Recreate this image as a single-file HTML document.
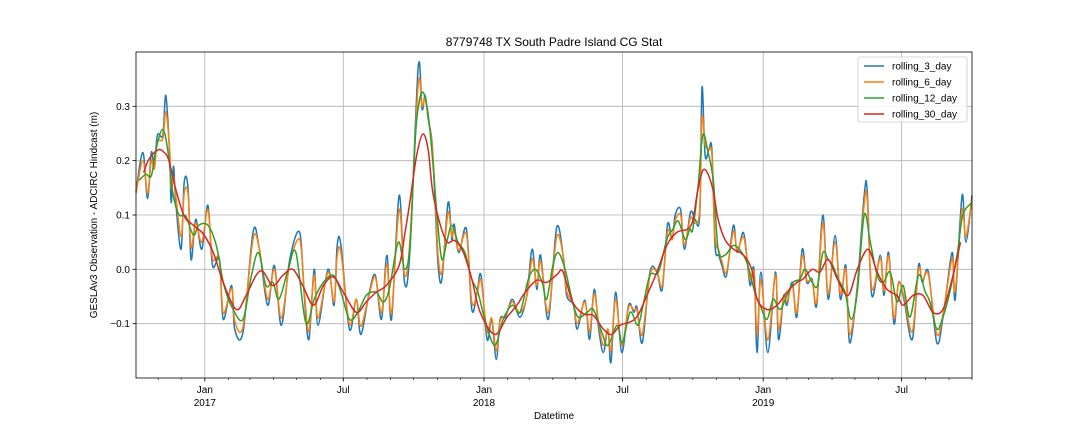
<!DOCTYPE html>
<html><head><meta charset="utf-8">
<style>
html,body{margin:0;padding:0;background:#fff;}
svg{display:block;font-family:"Liberation Sans","DejaVu Sans",sans-serif;}
</style></head>
<body>
<svg id="chart" width="1080" height="432" viewBox="0 0 1080 432">
  <rect x="0" y="0" width="1080" height="432" fill="#fff"/>
  <g id="grid"></g>
  <g id="series"></g>
  <rect x="136" y="52" width="836" height="326" fill="none" stroke="#000" stroke-width="0.8"/>
  <g id="axes"></g>
  <text x="554" y="46" text-anchor="middle" font-size="12" fill="#000">8779748 TX South Padre Island CG Stat</text>
  <text x="554" y="419" text-anchor="middle" font-size="10" fill="#000">Datetime</text>
  <text transform="translate(97,215) rotate(-90)" text-anchor="middle" font-size="10" fill="#000">GESLAv3 Observation - ADCIRC Hindcast (m)</text>
  <g>
    <rect x="858" y="57" width="109" height="65" rx="2" fill="#fff" fill-opacity="0.85" stroke="#ccc" stroke-width="0.8"/>
    <g id="legend"></g>
  </g>
</svg>
<script>
const blueDays=[0,9,15,20,24,28,35,39,44,46,49,52,59,63,68,72,78,86,94,100,109,114,125,129,140,153,161,172,181,190,201,214,220,226,233,238,251,259,263,268,279,288,294,305,313,321,328,334,344,351,358,369,374,378,382,387,391,395,400,408,413,416,422,432,439,446,451,459,465,471,476,483,492,502,511,518,524,529,539,550,559,563,572,577,587,593,599,605,611,617,621,627,635,644,651,655,662,672,681,688,695,701,705,712,717,725,731,737,740,744,749,753,757,762,766,772,781,786,794,799,803,808,812,817,826,836,840,847,851,858,864,871,877,884,890,898,905,914,921,928,933,943,952,956,962,973,978,984,991,997,1004,1015,1023,1028,1036,1047,1056,1067,1071,1080,1085,1093];
const blueVals=[.142,.215,.13,.215,.19,.247,.247,.32,.21,.123,.19,.123,.037,.16,.15,.018,.092,.037,.118,.007,.018,-.092,-.03,-.11,-.115,.068,.04,-.066,.007,-.103,.018,.068,-.048,-.129,0,-.103,0,-.066,.044,.044,-.11,-.055,-.12,-.042,-.011,-.092,.026,-.092,.136,-.024,.031,.372,.295,.32,.276,.234,.123,.007,-.018,.123,.055,.083,.031,.074,-.074,-.042,-.011,-.129,-.092,-.166,-.092,-.088,-.055,-.088,-.048,.037,-.037,.026,-.092,.077,.018,-.048,-.066,-.11,-.057,-.129,-.037,-.11,-.153,-.11,-.171,-.042,-.153,-.066,-.079,-.07,-.135,-.005,-.005,-.037,.083,.055,.1,.11,.037,.105,.092,.1,.335,.21,.22,.22,.044,.026,.007,-.011,.081,.031,.068,.018,-.03,0,-.153,-.005,-.153,-.005,-.129,-.048,-.066,-.024,-.088,.037,-.024,-.018,-.066,.1,-.055,.062,-.055,.007,-.135,-.03,.136,.145,-.048,.026,-.048,.031,-.1,-.024,-.055,-.129,.007,-.024,-.005,-.135,-.079,.031,-.055,.136,.05,.136];
const orangeDays=blueDays;
const orangeVals=[.14,.20,.14,.20,.185,.235,.24,.29,.22,.15,.17,.135,.06,.14,.14,.04,.085,.05,.11,.02,.02,-.08,-.035,-.095,-.105,.055,.04,-.055,0,-.09,.01,.055,-.04,-.115,-.01,-.09,-.005,-.06,.025,.03,-.1,-.055,-.105,-.045,-.015,-.08,.01,-.08,.11,-.01,.05,.34,.30,.315,.28,.23,.14,.025,-.005,.105,.06,.075,.035,.065,-.06,-.045,-.02,-.115,-.09,-.15,-.095,-.085,-.06,-.08,-.05,.02,-.03,.015,-.08,.06,.02,-.04,-.065,-.1,-.06,-.115,-.045,-.1,-.14,-.11,-.15,-.055,-.14,-.07,-.075,-.075,-.12,-.01,-.005,-.03,.07,.055,.09,.1,.045,.095,.085,.11,.28,.23,.22,.21,.06,.035,.015,-.005,.07,.035,.06,.02,-.02,-.005,-.12,-.02,-.13,-.01,-.11,-.05,-.06,-.03,-.08,.025,-.02,-.02,-.06,.085,-.045,.05,-.045,0,-.12,-.035,.12,.13,-.035,.02,-.04,.025,-.09,-.025,-.05,-.115,0,-.02,-.01,-.12,-.075,.02,-.04,.11,.06,.13];
const greenDays=[4,13,20,26,35,42,48,56,65,75,82,94,105,115,127,140,150,160,170,179,187,199,209,222,233,245,258,268,279,290,301,314,323,331,343,351,358,363,367,374,381,387,394,400,407,413,421,430,439,447,456,469,480,492,502,513,522,531,537,545,552,561,570,578,590,598,609,617,629,636,646,656,663,672,683,694,702,709,718,724,728,735,741,748,755,761,770,781,792,800,809,816,825,833,842,851,859,868,875,884,891,898,905,911,918,927,935,943,952,960,969,977,986,995,1003,1012,1023,1032,1038,1047,1055,1064,1074,1081,1093];
const greenVals=[.164,.175,.172,.22,.258,.215,.142,.101,.098,.063,.081,.081,.044,-.03,-.074,-.092,-.018,.031,-.03,-.024,-.055,0,.031,-.098,-.055,-.024,-.011,-.042,-.092,-.079,-.048,-.042,-.06,-.037,.05,0,.037,.18,.276,.326,.295,.215,.092,.018,.055,.081,.05,.031,-.018,-.042,-.092,-.14,-.092,-.066,-.079,-.018,0,-.024,-.055,.007,.031,0,-.055,-.088,-.079,-.074,-.116,-.14,-.103,-.135,-.079,-.103,-.066,-.011,-.005,.055,.074,.089,.055,.074,.074,.155,.247,.215,.16,.037,.026,.044,.031,.007,-.042,-.066,-.092,-.055,-.074,-.048,-.024,-.018,0,-.024,-.03,.031,.018,.007,-.018,-.042,-.092,-.042,.1,.05,-.011,-.024,-.005,-.06,-.03,-.088,-.011,-.042,-.06,-.11,-.088,-.042,.031,.1,.123];
const redDays=[10,17,29,37,43,52,63,75,88,101,114,131,144,157,166,179,192,205,218,232,245,258,271,288,301,314,327,344,352,358,367,375,382,388,398,407,417,428,439,450,469,485,498,509,524,537,551,558,571,585,598,611,622,633,646,656,668,681,694,707,721,728,734,741,748,755,761,770,781,790,799,806,812,825,838,851,864,872,884,894,905,917,931,943,957,969,982,995,1003,1016,1029,1042,1055,1067,1078];
const redVals=[.178,.203,.22,.215,.2,.147,.098,.081,.065,.031,-.024,-.074,-.048,-.011,-.004,-.03,-.011,0,-.03,-.066,-.03,-.014,-.042,-.079,-.06,-.042,-.03,.007,.07,.123,.21,.249,.22,.142,.081,.05,.053,.031,-.018,-.079,-.12,-.088,-.066,-.042,-.02,-.024,-.009,-.004,-.06,-.082,-.085,-.11,-.12,-.103,-.097,-.085,-.048,-.005,.044,.068,.074,.09,.142,.182,.175,.142,.092,.055,.037,.031,.018,-.005,-.055,-.074,-.066,-.042,-.024,-.018,0,-.005,.018,-.018,-.048,0,.037,-.005,-.037,-.048,-.066,-.048,-.048,-.079,-.074,-.018,.05];
const seriesNames=["rolling_3_day","rolling_6_day","rolling_12_day","rolling_30_day"];
const yTicks=[-0.1,0.0,0.1,0.2,0.3];
const yTickLabels=["−0.1","0.0","0.1","0.2","0.3"];
const xMajorLabels=[["Jan","2017"],["Jul",""],["Jan","2018"],["Jul",""],["Jan","2019"],["Jul",""]];
const xMajorDates=[[2017,0],[2017,6],[2018,0],[2018,6],[2019,0],[2019,6]];

const NS="http://www.w3.org/2000/svg";
const X0=136,X1=972,Y0=52,Y1=378;
const D0=0,D1=1093,V0=-0.2,V1=0.4;
const start=Date.UTC(2016,9,3);
function dayOf(y,m){return (Date.UTC(y,m,1)-start)/86400000;}
function xs(d){return X0+(d-D0)/(D1-D0)*(X1-X0);}
function ys(v){return Y1-(v-V0)/(V1-V0)*(Y1-Y0);}
function mk(tag,attrs,parent){const e=document.createElementNS(NS,tag);for(const k in attrs)e.setAttribute(k,attrs[k]);parent.appendChild(e);return e;}
function smoothPath(P){
  let d='M'+P[0][0].toFixed(1)+','+P[0][1].toFixed(1);
  for(let i=0;i<P.length-1;i++){
    const p0=P[Math.max(0,i-1)],p1=P[i],p2=P[i+1],p3=P[Math.min(P.length-1,i+2)];
    const c1x=p1[0]+(p2[0]-p0[0])/6,c1y=p1[1]+(p2[1]-p0[1])/6;
    const c2x=p2[0]-(p3[0]-p1[0])/6,c2y=p2[1]-(p3[1]-p1[1])/6;
    d+=' C'+c1x.toFixed(1)+','+c1y.toFixed(1)+' '+c2x.toFixed(1)+','+c2y.toFixed(1)+' '+p2[0].toFixed(1)+','+p2[1].toFixed(1);
  }
  return d;
}

const grid=document.getElementById('grid'),axes=document.getElementById('axes');
yTicks.forEach((v,i)=>{
  const y=ys(v);
  const g=mk('line',{x1:X0,x2:X1,y1:y,y2:y,stroke:'#b0b0b0','stroke-width':0.8},grid);
  
  
  const t=mk('line',{x1:X0-3.5,x2:X0,y1:y,y2:y,stroke:'#000','stroke-width':0.8},axes);
  
  
  const l=mk('text',{x:X0-6,y:y+3.5,'text-anchor':'end','font-size':10,fill:'#000'},axes);
  l.textContent=yTickLabels[i];
  
  
});
for(let y=2016;y<=2019;y++)for(let m=0;m<12;m++){
  const d=dayOf(y,m);if(d<0||d>D1)continue;
  const mt=mk('line',{x1:xs(d),x2:xs(d),y1:Y1,y2:Y1+2,stroke:'#000','stroke-width':0.6},axes);
  
  
}
xMajorDates.forEach((ym,i)=>{
  const x=xs(dayOf(ym[0],ym[1]));
  const g=mk('line',{x1:x,x2:x,y1:Y0,y2:Y1,stroke:'#b0b0b0','stroke-width':0.8},grid);
  
  
  const t=mk('line',{x1:x,x2:x,y1:Y1,y2:Y1+3.5,stroke:'#000','stroke-width':0.8},axes);
  
  
  const l=mk('text',{x:x,y:Y1+15,'text-anchor':'middle','font-size':10,fill:'#000'},axes);
  l.textContent=xMajorLabels[i][0];
  
  
  if(xMajorLabels[i][1]){
    const l2=mk('text',{x:x,y:Y1+28,'text-anchor':'middle','font-size':10,fill:'#000'},axes);
    l2.textContent=xMajorLabels[i][1];
    
    
  }
});

const series=document.getElementById('series');
const colors=["#1f77b4","#ff7f0e","#2ca02c","#d62728"];
const allDays=[blueDays,orangeDays,greenDays,redDays];
const allVals=[blueVals,orangeVals,greenVals,redVals];
const lineNames=["line-rolling-3-day","line-rolling-6-day","line-rolling-12-day","line-rolling-30-day"];
allDays.forEach((ds,k)=>{
  const vs=allVals[k];
  const P=ds.map((d,i)=>[xs(d),ys(vs[i])]);
  const p=mk('path',{d:smoothPath(P),fill:'none',stroke:colors[k],'stroke-width':1.5,'stroke-linejoin':'round'},series);
  
  
});

const leg=document.getElementById('legend');
seriesNames.forEach((n,k)=>{
  const y=66+k*16;
  const g=mk('g',{},leg);
  
  
  mk('line',{x1:864,x2:884,y1:y,y2:y,stroke:colors[k],'stroke-width':1.5},g);
  const t=mk('text',{x:892,y:y+3.5,'font-size':10,fill:'#000'},g);
  t.textContent=n;
});
</script>
</body></html>
